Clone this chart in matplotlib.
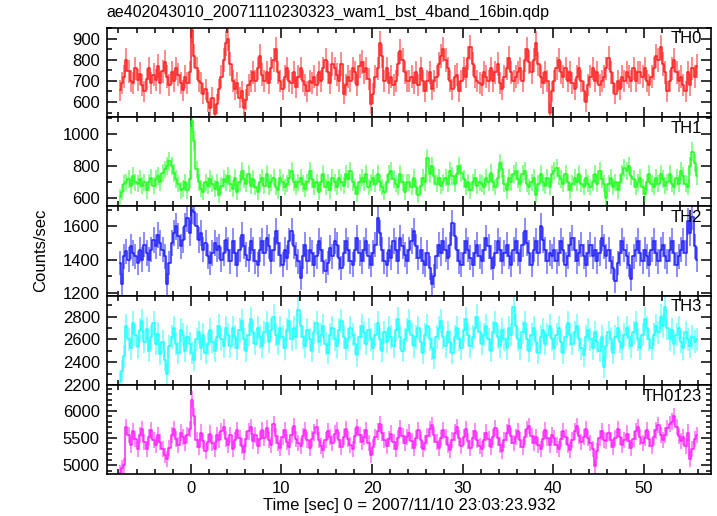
import numpy as np
import matplotlib.pyplot as plt
from matplotlib.ticker import MultipleLocator

plt.rcParams["font.family"] = ["Liberation Sans", "DejaVu Sans"]
plt.rcParams["font.size"] = 12
plt.rcParams["axes.linewidth"] = 1.2

# 0.25 s bins (16 x 1/64 s), from -8 s to 56 s
t_start = -8.0
bin_width = 0.25

th0 = [
    655, 690, 720, 800, 745, 700, 690, 760, 705, 735, 680, 650, 710, 760, 690, 730,
    705, 770, 690, 745, 790, 720, 680, 740, 700, 760, 730, 690, 655, 720, 690, 740,
    940, 820, 760, 700, 690, 640, 660, 600, 570, 620, 545, 590, 660, 720, 800, 880,
    900, 780, 700, 660, 690, 620, 650, 570, 610, 680, 700, 740, 700, 760, 820, 730,
    700, 740, 690, 760, 800, 850, 740, 700, 660, 720, 760, 700, 690, 740, 670, 720,
    760, 700, 680, 650, 700, 690, 720, 680, 740, 700, 760, 800, 740, 690, 780, 760,
    730, 700, 780, 640, 680, 720, 700, 760, 740, 680, 770, 790, 740, 760, 710, 590,
    640, 720, 760, 880, 820, 700, 760, 690, 720, 680, 700, 780, 840, 800, 740, 700,
    700, 720, 690, 740, 680, 760, 700, 650, 700, 740, 660, 700, 720, 780, 820, 850,
    800, 760, 700, 660, 720, 730, 650, 700, 760, 720, 810, 860, 780, 720, 700, 690,
    680, 740, 720, 700, 760, 700, 740, 780, 690, 660, 720, 760, 810, 740, 700, 720,
    740, 760, 700, 800, 850, 790, 740, 800, 880, 780, 720, 690, 740, 700, 550, 650,
    700, 760, 800, 740, 720, 760, 700, 740, 690, 660, 720, 760, 700, 650, 600, 680,
    720, 760, 700, 740, 680, 700, 720, 760, 810, 740, 690, 640, 700, 660, 720, 700,
    740, 720, 700, 760, 700, 740, 740, 720, 760, 700, 680, 720, 760, 820, 800, 860,
    780, 740, 650, 700, 760, 800, 740, 700, 720, 680, 650, 740, 680, 760, 720, 770,
]

th1 = [
    610, 640, 690, 700, 720, 680, 740, 700, 690, 720, 680, 700, 650, 700, 730, 680,
    720, 740, 700, 760, 780, 800, 830, 800, 760, 720, 690, 650, 660, 700, 650, 720,
    1080, 960, 780, 700, 660, 640, 700, 680, 720, 690, 660, 700, 620, 680, 720, 700,
    740, 690, 660, 730, 640, 700, 770, 720, 690, 750, 680, 720, 670, 640, 700, 730,
    680, 750, 670, 700, 730, 670, 650, 730, 700, 670, 690, 730, 770, 700, 670, 700,
    730, 690, 660, 700, 770, 720, 670, 700, 640, 700, 750, 670, 700, 650, 730, 700,
    670, 730, 700, 680, 750, 720, 770, 700, 670, 630, 700, 730, 700, 750, 670, 700,
    730, 690, 750, 700, 670, 640, 700, 750, 770, 720, 690, 670, 750, 700, 640, 700,
    700, 670, 730, 670, 620, 680, 730, 700, 850, 750, 800, 740, 690, 730, 680, 700,
    730, 690, 770, 740, 690, 750, 800, 760, 720, 670, 700, 650, 700, 730, 680, 700,
    690, 670, 730, 700, 760, 700, 670, 730, 820, 780, 690, 650, 730, 700, 750, 770,
    720, 690, 750, 770, 690, 670, 700, 730, 620, 690, 750, 700, 680, 730, 670, 750,
    770, 790, 740, 720, 690, 750, 700, 650, 690, 730, 700, 750, 690, 670, 730, 690,
    670, 700, 750, 690, 770, 720, 690, 600, 690, 730, 670, 700, 650, 700, 750, 790,
    770, 800, 740, 720, 670, 700, 730, 670, 630, 700, 750, 690, 670, 730, 690, 750,
    720, 680, 700, 750, 690, 670, 730, 690, 770, 740, 690, 670, 800, 890, 820, 740,
]

th2 = [
    1380, 1250, 1420, 1450, 1400, 1480, 1440, 1420, 1380, 1460, 1400, 1490, 1440, 1400, 1460, 1520,
    1480, 1550, 1500, 1460, 1420, 1250, 1380, 1500, 1560, 1600, 1540, 1480, 1520, 1600, 1650, 1560,
    1700, 1690, 1600, 1520, 1560, 1460, 1500, 1420, 1380, 1440, 1500, 1460, 1480, 1400, 1440, 1520,
    1460, 1390, 1510, 1440, 1370, 1460, 1550, 1480, 1430, 1400, 1510, 1460, 1390, 1370, 1460, 1510,
    1440, 1530, 1480, 1390, 1460, 1570, 1500, 1430, 1370, 1460, 1410, 1510, 1570, 1480, 1430, 1390,
    1290, 1420, 1490, 1390, 1460, 1440, 1370, 1420, 1510, 1460, 1390, 1330, 1380, 1470, 1420, 1510,
    1490, 1410, 1350, 1440, 1510, 1460, 1390, 1370, 1460, 1530, 1440, 1390, 1460, 1510, 1420, 1370,
    1440, 1490, 1650, 1560, 1460, 1390, 1370, 1460, 1410, 1510, 1460, 1390, 1530, 1480, 1430, 1390,
    1460, 1510, 1570, 1480, 1410, 1460, 1390, 1370, 1440, 1350, 1250, 1300, 1420, 1490, 1440, 1510,
    1460, 1410, 1490, 1620, 1540, 1460, 1390, 1370, 1440, 1510, 1460, 1410, 1370, 1440, 1490, 1420,
    1390, 1460, 1530, 1480, 1410, 1350, 1440, 1510, 1460, 1390, 1440, 1490, 1420, 1370, 1460, 1510,
    1440, 1390, 1490, 1570, 1500, 1440, 1370, 1460, 1510, 1440, 1600, 1520, 1460, 1390, 1440, 1420,
    1460, 1390, 1440, 1510, 1460, 1370, 1420, 1490, 1530, 1460, 1390, 1440, 1490, 1420, 1370, 1440,
    1490, 1420, 1460, 1390, 1440, 1530, 1480, 1420, 1460, 1390, 1350, 1270, 1380, 1440, 1510, 1460,
    1420, 1370, 1280, 1420, 1460, 1510, 1440, 1390, 1460, 1420, 1370, 1460, 1510, 1440, 1390, 1460,
    1490, 1420, 1390, 1460, 1510, 1440, 1370, 1420, 1460, 1510, 1440, 1630, 1560, 1660, 1480, 1400,
]

th3 = [
    2230, 2320, 2450, 2720, 2600, 2520, 2740, 2640, 2530, 2680, 2760, 2580, 2690, 2500, 2620, 2740,
    2560, 2650, 2470, 2580, 2420, 2300, 2540, 2620, 2700, 2560, 2480, 2680, 2640, 2500, 2620, 2560,
    2480, 2420, 2600, 2660, 2520, 2640, 2480, 2560, 2680, 2580, 2500, 2620, 2720, 2600, 2540, 2700,
    2640, 2540, 2700, 2620, 2520, 2680, 2760, 2600, 2500, 2640, 2780, 2660, 2560, 2700, 2620, 2540,
    2660, 2740, 2580, 2680, 2800, 2640, 2560, 2700, 2620, 2520, 2680, 2760, 2600, 2700, 2620, 2860,
    2720, 2620, 2540, 2680, 2600, 2500, 2660, 2740, 2580, 2640, 2720, 2560, 2480, 2640, 2700, 2600,
    2540, 2680, 2760, 2620, 2520, 2600, 2700, 2640, 2560, 2460, 2620, 2720, 2660, 2560, 2680, 2600,
    2520, 2640, 2740, 2600, 2500, 2660, 2580, 2700, 2620, 2540, 2680, 2780, 2620, 2500, 2600, 2680,
    2760, 2640, 2540, 2620, 2700, 2580, 2480, 2640, 2720, 2600, 2520, 2440, 2620, 2700, 2760, 2620,
    2540, 2660, 2580, 2480, 2620, 2700, 2600, 2520, 2680, 2780, 2640, 2540, 2620, 2700, 2800, 2660,
    2560, 2640, 2720, 2600, 2500, 2660, 2740, 2620, 2540, 2680, 2600, 2520, 2700, 2640, 2880, 2720,
    2600, 2520, 2660, 2740, 2600, 2500, 2640, 2700, 2580, 2480, 2620, 2680, 2560, 2640, 2720, 2600,
    2520, 2640, 2700, 2580, 2480, 2620, 2740, 2640, 2560, 2660, 2720, 2600, 2520, 2460, 2620, 2680,
    2600, 2520, 2660, 2580, 2500, 2620, 2360, 2540, 2660, 2600, 2480, 2620, 2700, 2580, 2520, 2640,
    2700, 2620, 2540, 2660, 2740, 2600, 2520, 2640, 2780, 2700, 2600, 2520, 2640, 2720, 2660, 2800,
    2720, 2880, 2700, 2600, 2680, 2560, 2640, 2700, 2580, 2520, 2660, 2600, 2540, 2620, 2580, 2600,
]

th0123 = [
    4860, 4950, 5000, 5700, 5560, 5380, 5620, 5480, 5300, 5560, 5660, 5420, 5300, 5520, 5640, 5460,
    5380, 5560, 5420, 5300, 5180, 5120, 5320, 5560, 5660, 5480, 5380, 5600, 5520, 5400, 5560, 5660,
    6200, 5900, 5460, 5340, 5600, 5440, 5260, 5420, 5580, 5400, 5300, 5560, 5460, 5620, 5700, 5480,
    5380, 5560, 5300, 5460, 5640, 5500, 5360, 5240, 5480, 5620, 5700, 5440, 5560, 5360, 5480, 5640,
    5500, 5680, 5460, 5380, 5760, 5540, 5400, 5320, 5520, 5640, 5420, 5340, 5560, 5720, 5480, 5400,
    5360, 5540, 5640, 5460, 5320, 5480, 5600, 5700, 5460, 5360, 5280, 5460, 5620, 5520, 5400, 5580,
    5640, 5460, 5340, 5520, 5660, 5480, 5380, 5300, 5540, 5700, 5560, 5420, 5520, 5640, 5400, 5180,
    5340, 5520, 5620, 5760, 5600, 5460, 5360, 5480, 5580, 5420, 5300, 5500, 5680, 5540, 5400, 5520,
    5600, 5440, 5320, 5500, 5640, 5460, 5300, 5400, 5540, 5660, 5740, 5560, 5420, 5320, 5500, 5640,
    5520, 5380, 5280, 5460, 5600, 5700, 5500, 5360, 5520, 5660, 5440, 5320, 5500, 5620, 5460, 5360,
    5300, 5460, 5600, 5480, 5340, 5520, 5680, 5500, 5380, 5260, 5460, 5600, 5720, 5540, 5400, 5520,
    5620, 5460, 5340, 5520, 5660, 5720, 5540, 5400, 5520, 5380, 5300, 5480, 5640, 5500, 5380, 5560,
    5500, 5380, 5300, 5480, 5620, 5520, 5380, 5280, 5460, 5620, 5720, 5540, 5420, 5520, 5660, 5500,
    5400, 5300, 4980, 5260, 5500, 5620, 5460, 5440, 5600, 5460, 5340, 5500, 5660, 5520, 5380, 5460,
    5580, 5440, 5320, 5480, 5620, 5700, 5520, 5400, 5500, 5640, 5480, 5360, 5520, 5640, 5740, 5560,
    5460, 5560, 5680, 5760, 5800, 5900, 5700, 5540, 5440, 5520, 5360, 5600, 5120, 5300, 5480, 5560,
]

panels = ["TH0", "TH1", "TH2", "TH3", "TH0123"]
series = [th0, th1, th2, th3, th0123]
colors = ["#ff2020", "#20ff20", "#2020ff", "#20ffff", "#ff20ff"]
ylims = [(528, 952), (550, 1106), (1182, 1721), (2200, 2983), (4836, 6473)]
majors = [100, 200, 200, 200, 500]
minors = [50, 100, 100, 100, 100]

fig, axes = plt.subplots(5, 1, sharex=True, figsize=(7.17, 5.16), dpi=100)
fig.subplots_adjust(left=0.149, right=0.992, top=0.946, bottom=0.081, hspace=0)

for ax, name, y, c, yl, mj, mn in zip(axes, panels, series, colors, ylims, majors, minors):
    y = np.array(y, dtype=float)
    t = t_start + bin_width * (np.arange(len(y)) + 0.5)
    err = np.sqrt(y / bin_width)
    ax.vlines(t, y - err, y + err, color=c, alpha=0.6, lw=1.2)
    ax.step(t, y, where="mid", color=c, lw=1.1)
    ax.set_ylim(*yl)
    ax.yaxis.set_major_locator(MultipleLocator(mj))
    ax.yaxis.set_minor_locator(MultipleLocator(mn))
    ax.xaxis.set_major_locator(MultipleLocator(10))
    ax.xaxis.set_minor_locator(MultipleLocator(2))
    ax.tick_params(which="both", direction="in", top=True, right=True, width=1.1)
    ax.tick_params(which="major", length=7, pad=5)
    ax.tick_params(which="minor", length=3.5)
    ax.text(0.985, 0.96, name, ha="right", va="top", transform=ax.transAxes)

axes[0].set_xlim(-9.28, 57.46)
axes[-1].set_xlabel("Time [sec] 0 = 2007/11/10 23:03:23.932", labelpad=1)
fig.text(0.056, 0.514, "Counts/sec", rotation=90, ha="center", va="center")
fig.text(0.149, 0.976, "ae402043010_20071110230323_wam1_bst_4band_16bin.qdp",
         ha="left", va="center", fontsize=11.5)

plt.savefig("out.png")
